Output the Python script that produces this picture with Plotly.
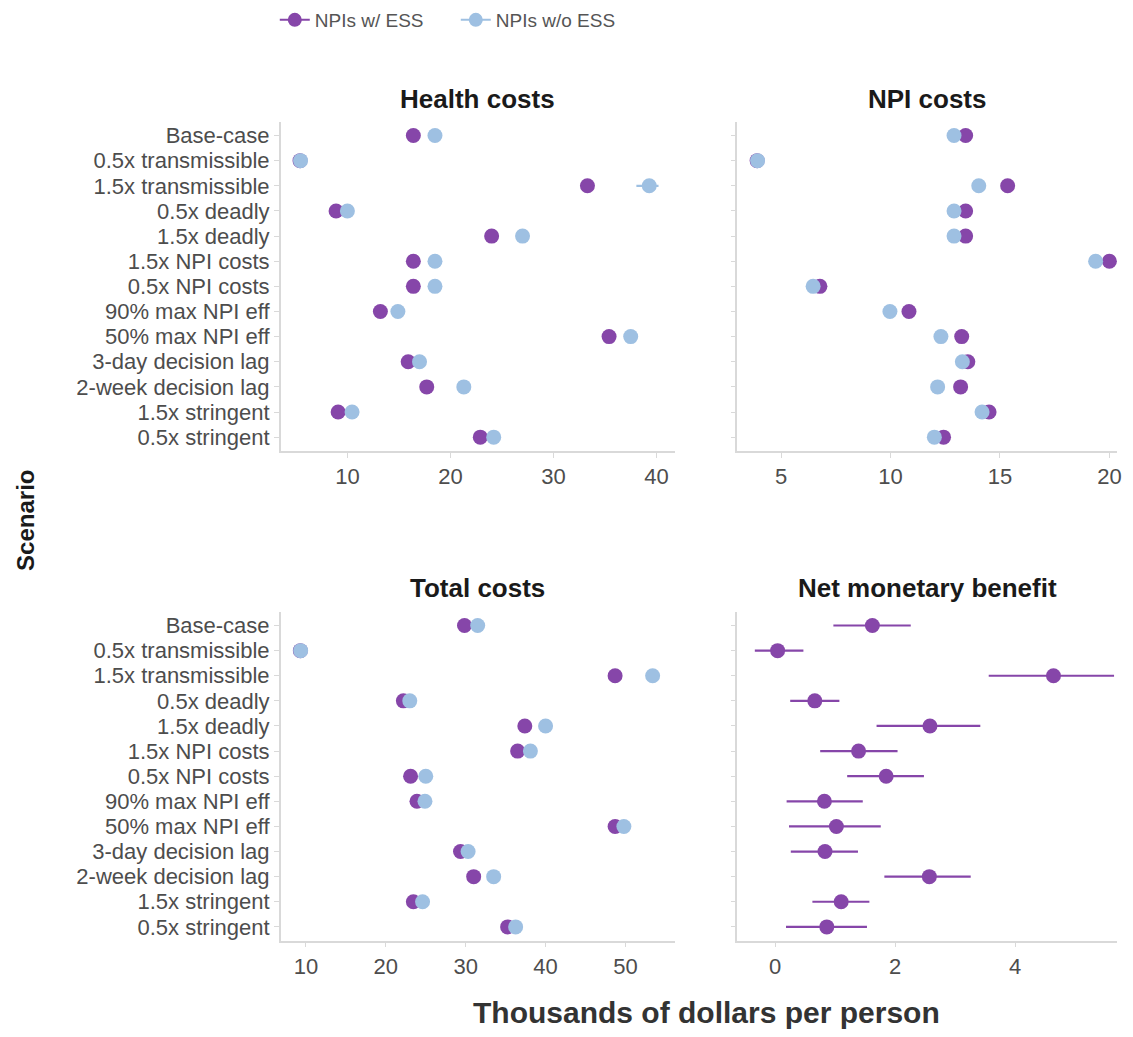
import plotly.graph_objects as go

scenarios = ["Base-case", "0.5x transmissible", "1.5x transmissible", "0.5x deadly",
             "1.5x deadly", "1.5x NPI costs", "0.5x NPI costs", "90% max NPI eff",
             "50% max NPI eff", "3-day decision lag", "2-week decision lag",
             "1.5x stringent", "0.5x stringent"]

health_ess = [16.4, 5.4, 33.3, 8.9, 24.0, 16.4, 16.4, 13.2, 35.4, 15.9, 17.7, 9.1, 22.9]
health_noess = [18.5, 5.45, 39.3, 10.0, 27.0, 18.5, 18.5, 14.9, 37.5, 17.0, 21.3, 10.45, 24.2]
health_noess_lo = [18.5, 5.45, 38.05, 10.0, 27.0, 18.5, 18.5, 14.9, 37.5, 17.0, 21.3, 10.45, 24.2]
health_noess_hi = [18.5, 5.45, 40.2, 10.0, 27.0, 18.5, 18.5, 14.9, 37.5, 17.0, 21.3, 10.45, 24.2]

npi_ess = [13.43, 3.9, 15.35, 13.43, 13.43, 20.0, 6.77, 10.84, 13.25, 13.53, 13.2, 14.5, 12.42]
npi_noess = [12.9, 3.92, 14.03, 12.9, 12.9, 19.37, 6.46, 9.97, 12.3, 13.28, 12.15, 14.18, 12.0]

total_ess = [29.85, 9.3, 48.7, 22.2, 37.4, 36.5, 23.1, 23.9, 48.7, 29.35, 31.0, 23.45, 35.25]
total_noess = [31.5, 9.34, 53.4, 23.0, 40.0, 38.1, 25.0, 24.9, 49.8, 30.3, 33.5, 24.6, 36.25]

nmb = [1.62, 0.04, 4.64, 0.66, 2.58, 1.39, 1.85, 0.82, 1.02, 0.83, 2.57, 1.1, 0.86]
nmb_lo = [0.97, -0.34, 3.56, 0.25, 1.69, 0.75, 1.2, 0.19, 0.23, 0.26, 1.82, 0.62, 0.18]
nmb_hi = [2.26, 0.47, 5.65, 1.07, 3.42, 2.04, 2.48, 1.46, 1.76, 1.38, 3.26, 1.57, 1.53]

panel_titles = ["Health costs", "NPI costs", "Total costs", "Net monetary benefit"]
series_names = ["NPIs w/ ESS", "NPIs w/o ESS"]
x_ticks = [[10, 20, 30, 40], [5, 10, 15, 20], [10, 20, 30, 40, 50], [0, 2, 4]]

PURPLE = "#8646A9"
BLUE = "#9EC0E2"
FONT = "Liberation Sans"
TICKC = "#4D4D4D"
AXC = "#D9D9D9"
W, H = 1133, 1037

fig = go.Figure()

def err(vals, lo, hi):
    return dict(type="data", symmetric=False,
                array=[h - v for v, h in zip(vals, hi)],
                arrayminus=[v - l for v, l in zip(vals, lo)],
                width=0, thickness=2.2)

mk = dict(size=15, line=dict(width=0))

# Health costs
fig.add_trace(go.Scatter(x=health_ess, y=scenarios, mode="markers", marker=dict(color=PURPLE, **mk),
                         showlegend=False, xaxis="x", yaxis="y"))
fig.add_trace(go.Scatter(x=health_noess, y=scenarios, mode="markers", marker=dict(color=BLUE, **mk),
                         error_x=dict(color=BLUE, **err(health_noess, health_noess_lo, health_noess_hi)),
                         showlegend=False, xaxis="x", yaxis="y"))
# NPI costs
fig.add_trace(go.Scatter(x=npi_ess, y=scenarios, mode="markers", marker=dict(color=PURPLE, **mk),
                         showlegend=False, xaxis="x2", yaxis="y2"))
fig.add_trace(go.Scatter(x=npi_noess, y=scenarios, mode="markers", marker=dict(color=BLUE, **mk),
                         showlegend=False, xaxis="x2", yaxis="y2"))
# Total costs
fig.add_trace(go.Scatter(x=total_ess, y=scenarios, mode="markers", marker=dict(color=PURPLE, **mk),
                         showlegend=False, xaxis="x3", yaxis="y3"))
fig.add_trace(go.Scatter(x=total_noess, y=scenarios, mode="markers", marker=dict(color=BLUE, **mk),
                         showlegend=False, xaxis="x3", yaxis="y3"))
# NMB
fig.add_trace(go.Scatter(x=nmb, y=scenarios, mode="markers", marker=dict(color=PURPLE, **mk),
                         error_x=dict(color=PURPLE, **err(nmb, nmb_lo, nmb_hi)),
                         showlegend=False, xaxis="x4", yaxis="y4"))

# legend entries
fig.add_trace(go.Scatter(x=[None], y=[None], mode="lines+markers", name=series_names[0],
                         line=dict(color=PURPLE, width=2), marker=dict(color=PURPLE, size=14),
                         xaxis="x", yaxis="y"))
fig.add_trace(go.Scatter(x=[None], y=[None], mode="lines+markers", name=series_names[1],
                         line=dict(color=BLUE, width=2), marker=dict(color=BLUE, size=14),
                         xaxis="x", yaxis="y"))

def px2x(p):
    return p / W

def px2y(p):
    return 1 - p / H

xl = [px2x(282), px2x(678)]
xr = [px2x(740.7), px2x(1122)]
yt = [px2y(451), px2y(121.7)]
yb = [px2y(940.7), px2y(611.7)]

x_ranges = [[3.53, 41.8], [3.0, 20.35], [6.85, 56.2], [-0.63, 5.7]]
x_domains = [xl, xr, xl, xr]
y_domains = [yt, yt, yb, yb]

common_ax = dict(showline=True, linecolor=AXC, linewidth=1.5, showgrid=False, zeroline=False,
                 ticks="outside", tickcolor=AXC, ticklen=5, tickwidth=1.2,
                 tickfont=dict(family=FONT, size=22, color=TICKC))

layout = dict(width=W, height=H, margin=dict(l=0, r=0, t=0, b=0),
              plot_bgcolor="white", paper_bgcolor="white",
              font=dict(family=FONT, color=TICKC),
              showlegend=True,
              legend=dict(orientation="h", x=px2x(276), y=px2y(1), xanchor="left", yanchor="top",
                          font=dict(family=FONT, size=19, color="#555555"),
                          bgcolor="rgba(0,0,0,0)", entrywidth=136, entrywidthmode="pixels",
                          tracegroupgap=0))

for i in range(4):
    sfx = "" if i == 0 else str(i + 1)
    layout["xaxis" + sfx] = dict(domain=x_domains[i], range=x_ranges[i], tickvals=x_ticks[i],
                                 anchor="y" + sfx, **common_ax)
    layout["yaxis" + sfx] = dict(domain=y_domains[i], type="category", categoryorder="array",
                                 categoryarray=scenarios, range=[12.55, -0.55],
                                 tickmode="array", tickvals=scenarios, ticktext=scenarios,
                                 anchor="x" + sfx, showticklabels=(i % 2 == 0), **common_ax)

fig.update_layout(**layout)

title_pos = [((282 + 678) / 2, 99), ((740.7 + 1122) / 2, 99),
             ((282 + 678) / 2, 588), ((740.7 + 1122) / 2, 588)]
for t, (cx, cy) in zip(panel_titles, title_pos):
    fig.add_annotation(x=px2x(cx), y=px2y(cy), xref="paper", yref="paper", showarrow=False,
                       text="<b>" + t + "</b>", xanchor="center", yanchor="middle",
                       font=dict(family=FONT, size=26, color="#1A1A1A"))

fig.add_annotation(x=px2x(25), y=px2y(520), xref="paper", yref="paper", showarrow=False,
                   text="<b>Scenario</b>", textangle=-90, xanchor="center", yanchor="middle",
                   font=dict(family=FONT, size=24, color="#1A1A1A"))
fig.add_annotation(x=px2x(710), y=px2y(1012), xref="paper", yref="paper", showarrow=False,
                   text="<b>Thousands of dollars per person</b>", xanchor="center", yanchor="middle",
                   font=dict(family=FONT, size=30, color="#333333"))

fig.write_html("out.html", config={"displayModeBar": False},
               post_script="document.body.style.margin='0';")
